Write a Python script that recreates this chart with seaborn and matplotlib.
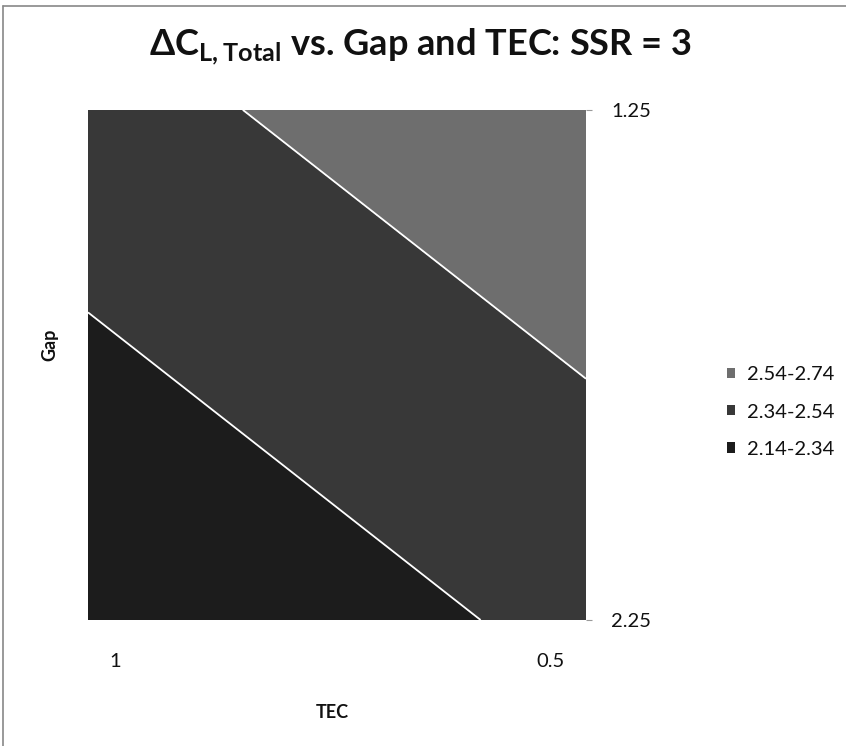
import numpy as np
import matplotlib
matplotlib.use("Agg")
import matplotlib.pyplot as plt
import matplotlib.transforms as mtransforms
from matplotlib.lines import Line2D
from matplotlib.patches import Patch
import seaborn as sns

# Surface data: Delta C_L,Total on the TEC x Gap grid
tec = [1.0, 0.5]
gap = [1.25, 2.25]
delta_cl = [
    [2.465, 2.706],   # Gap = 1.25
    [2.150, 2.391],   # Gap = 2.25
]

band_edges = [2.14, 2.34, 2.54, 2.74]
band_labels = ["2.14-2.34", "2.34-2.54", "2.54-2.74"]
band_colors = ["#1c1c1c", "#383838", "#6e6e6e"]

x_tick_labels = ["1", "0.5"]
y_tick_labels = ["1.25", "2.25"]

sns.set_theme(style="white")
plt.rcParams["font.family"] = ["Lato", "DejaVu Sans"]
plt.rcParams["mathtext.fontset"] = "custom"
plt.rcParams["mathtext.rm"] = "Lato"
plt.rcParams["mathtext.bf"] = "Lato:bold"

palette = sns.color_palette(band_colors)

fig = plt.figure(figsize=(8.46, 7.46), dpi=100)
fig.patch.set_facecolor("white")
ax = fig.add_axes([88 / 846, 1 - 620 / 746, 498 / 846, 510 / 746])

X, Y = np.meshgrid(tec, gap)
Z = np.array(delta_cl)
ax.contourf(X, Y, Z, levels=band_edges, colors=palette)
ax.contour(X, Y, Z, levels=band_edges[1:-1], colors="white", linewidths=1.3)

ax.set_xlim(tec[0], tec[-1])
ax.set_ylim(gap[-1], gap[0])

ax.set_xticks(tec)
ax.set_xticklabels(x_tick_labels)
ax.set_yticks(gap)
ax.set_yticklabels(y_tick_labels)
ax.yaxis.tick_right()
ax.tick_params(axis="x", length=0, pad=24, labelsize=14.5, colors="#111111")
ax.tick_params(axis="y", length=4, width=0.8, color="#999999", pad=14,
               labelsize=14.5, labelcolor="#111111")
for s in ax.spines.values():
    s.set_visible(False)

# category labels sit slightly inside the floor edges
for lab, dx in zip(ax.get_xticklabels(), [0.27, -0.36]):
    lab.set_transform(lab.get_transform() +
                      mtransforms.ScaledTranslation(dx, 0, fig.dpi_scale_trans))

ax.set_xlabel("TEC", fontsize=13, fontweight="bold", color="#111111")
ax.xaxis.set_label_coords(0.49, -0.165)
ax.set_ylabel("Gap", fontsize=13, fontweight="bold", color="#111111")
ax.yaxis.set_label_position("left")
ax.yaxis.set_label_coords(-0.06, 0.54)

fig.text(0.497, 1 - 46 / 746,
         r"ΔC$_{\mathregular{L,Total}}$ vs. Gap and TEC: SSR = 3",
         ha="center", va="center", fontsize=26, fontweight="bold",
         color="#111111")

handles = [Patch(facecolor=c, edgecolor="none") for c in palette]
leg = fig.legend(handles[::-1], band_labels[::-1], loc="center left",
                 bbox_to_anchor=(727 / 846, 1 - 412 / 746), frameon=False,
                 fontsize=14.5, handlelength=0.4, handleheight=0.4,
                 handletextpad=0.6, labelspacing=1.0, borderpad=0,
                 borderaxespad=0)
for t in leg.get_texts():
    t.set_color("#111111")

# chart-area frame
fig.add_artist(Line2D([0.004, 1.0], [0.992, 0.992], transform=fig.transFigure,
                      color="#888888", lw=1.2))
fig.add_artist(Line2D([0.004, 0.004], [0.0, 0.992], transform=fig.transFigure,
                      color="#888888", lw=1.2))

fig.savefig("out.png", dpi=100)
